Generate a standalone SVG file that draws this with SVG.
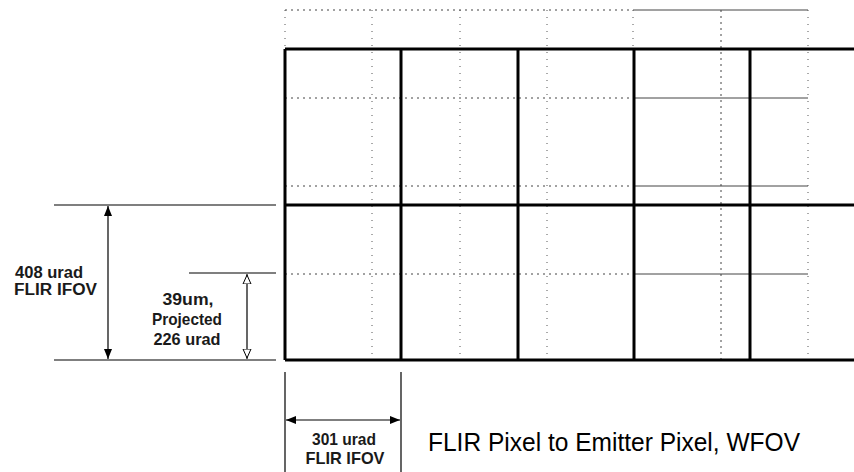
<svg xmlns="http://www.w3.org/2000/svg" width="854" height="472" viewBox="0 0 854 472">
<defs>
<style>
.thick{stroke:#000;stroke-width:3;fill:none}
.dot{stroke:#444;stroke-width:1;stroke-dasharray:2 4;fill:none}
.vdot{stroke:#555;stroke-width:1;stroke-dasharray:1 6;fill:none}
.thin{stroke:#444;stroke-width:1;fill:none}
.ext{stroke:#000;stroke-width:1.2;fill:none}
.lbl{font-family:"Liberation Sans",Arial,sans-serif;font-size:16px;font-weight:bold;fill:#1a1a1a;text-anchor:middle}
.big{font-size:17px}
.lft{text-anchor:start}
.title{font-family:"Liberation Sans",Arial,sans-serif;font-size:25px;fill:#000}
</style>
<marker id="fa" viewBox="0 0 10 10" refX="10" refY="5" markerWidth="10" markerHeight="10" orient="auto-start-reverse" markerUnits="userSpaceOnUse"><path d="M0,1 L10,5 L0,9 Z" fill="#000"/></marker>
<marker id="oa" viewBox="0 0 10 10" refX="10" refY="5" markerWidth="10" markerHeight="10" orient="auto-start-reverse" markerUnits="userSpaceOnUse"><path d="M0,1 L9,5 L0,9 Z" fill="#fff" stroke="#000" stroke-width="1"/></marker>
</defs>
<g id="emitter-grid">
<path class="dot" d="M285,10 H633 M285,98 H633 M285,186 H633 M285,274 H633"/>
<path class="thin" d="M633,10 H808 M633,98 H808 M633,186 H808 M633,274 H808"/>
<path class="vdot" d="M285,10 V49 M372,10 V360 M460,10 V360 M547,10 V360 M633,10 V49 M808,10 V360"/>
<path class="dot" d="M721,10 V360"/>
</g>
<g id="flir-grid">
<path class="thick" d="M285,49 H854 M285,205 H854 M285,360 H854 M285,49 V360 M401,49 V360 M518,49 V360 M634,49 V360 M750,49 V360"/>
</g>
<g id="connectors">
<path class="ext" d="M54,205 H276 M54,360 H276 M189,273 H276 M285,372 V472 M401,372 V472"/>
<line class="ext" x1="108" y1="206" x2="108" y2="359" marker-start="url(#fa)" marker-end="url(#fa)"/>
<line class="ext" x1="247" y1="274" x2="247" y2="359" marker-start="url(#oa)" marker-end="url(#oa)"/>
<line class="ext" x1="286" y1="420" x2="400" y2="420" marker-start="url(#fa)" marker-end="url(#fa)"/>
</g>
<g id="label-408">
<text class="lbl lft" x="15" y="278" textLength="68" lengthAdjust="spacingAndGlyphs">408 urad</text>
<text class="lbl lft" x="14" y="295" textLength="83" lengthAdjust="spacingAndGlyphs">FLIR IFOV</text>
</g>
<g id="label-39um">
<text class="lbl big" x="188" y="305" textLength="51" lengthAdjust="spacingAndGlyphs">39um,</text>
<text class="lbl big" x="187" y="325" textLength="70" lengthAdjust="spacingAndGlyphs">Projected</text>
<text class="lbl big" x="187" y="345" textLength="67" lengthAdjust="spacingAndGlyphs">226 urad</text>
</g>
<g id="label-301">
<text class="lbl big" x="344" y="445" textLength="64" lengthAdjust="spacingAndGlyphs">301 urad</text>
<text class="lbl big" x="345" y="464" textLength="79" lengthAdjust="spacingAndGlyphs">FLIR IFOV</text>
</g>
<g id="title">
<text class="title" x="428" y="451" textLength="372" lengthAdjust="spacingAndGlyphs">FLIR Pixel to Emitter Pixel, WFOV</text>
</g>
</svg>
